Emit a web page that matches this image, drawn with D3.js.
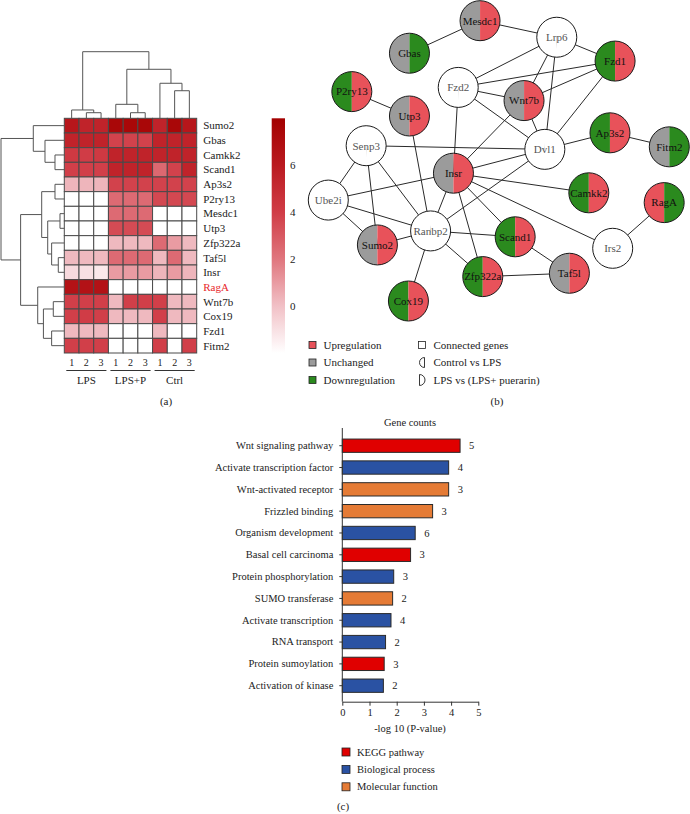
<!DOCTYPE html>
<html><head><meta charset="utf-8">
<script src="https://cdn.jsdelivr.net/npm/d3@7"></script>
<style>
body{margin:0;background:#fff}
text{font-family:"Liberation Serif","Times New Roman",serif;}
</style>
</head><body>
<svg id="c" width="690" height="814"></svg>
<script>
// ---------------- DATA ----------------
const rowGenes = ["Sumo2","Gbas","Camkk2","Scand1","Ap3s2","P2ry13","Mesdc1","Utp3","Zfp322a","Taf5l","Insr","RagA","Wnt7b","Cox19","Fzd1","Fitm2"];
const colReplicates = ["1","2","3","1","2","3","1","2","3"];
const colGroups = ["LPS","LPS+P","Ctrl"];
const heatValues = [
 [6.3,5.5,5.5, 7.5,7.5,7.5, 5.5,7.5,6.3],
 [5.5,5.5,5.5, 3.8,3.8,3.8, 5.5,5.5,5.5],
 [4.2,4.0,4.2, 5.5,5.5,5.5, 5.5,5.5,5.5],
 [3.9,3.9,3.9, 5.5,5.5,5.5, 2.5,3.8,5.5],
 [0.3,0.3,0.3, 3.8,3.8,3.8, 3.8,3.8,3.8],
 [-2,-2,-2, 2.4,2.4,2.4, 3.6,3.6,3.6],
 [-2,-2,-2, 2.4,2.4,2.4, -2,-2,-2],
 [-2,-2,-2, 3.5,3.5,3.5, -2,-2,-2],
 [-2,-2,-2, 0.2,0.2,0.2, 2.4,1.0,0.2],
 [0.2,0.2,0.2, 2.4,2.4,2.4, 0.2,2.4,0.2],
 [-0.8,-1.0,-1.3, 1.0,1.0,1.0, 0.3,1.0,0.3],
 [6.6,6.6,6.6, -2,-2,-2, -2,-2,-2],
 [3.9,3.9,3.9, 0.2,3.9,3.9, 3.9,0.2,0.2],
 [3.9,4.0,3.9, 0.2,0.2,0.2, 3.9,0.2,0.2],
 [0.2,0.2,0.2, -2,-2,-2, 0.2,-2,-2],
 [3.9,3.9,3.9, -2,-2,-2, 3.9,-2,3.9]
];
const colorTicks = [0,2,4,6];
// dendrogram merges: [childA, childB, height]
const rowMerges = [
 ["r2","r3",1.47],["r1","m0",3.05],["r0","m1",4.9],
 ["r4","r5",1.47],["r6","r7",0.68],["r9","r10",0.95],["r8","m5",2.0],
 ["m4","m6",2.62],["m3","m7",3.57],
 ["r12","r13",1.74],["r14","r15",2.0],["m9","m10",3.3],["r11","m11",4.2],
 ["m8","m12",6.9],["m2","m13",10]
];
const colMerges = [
 ["c1","c2",0.84],["c0","m0",1.25],["c4","c5",0.84],["c3","m2",2.1],
 ["c7","c8",4.14],["c6","m4",5.26],["m3","m5",7.36],["m1","m6",10]
];

// network (layout units 0-100)
const netNodes = [
 {id:"Mesdc1",x:44.5,y:0,l:"unch",r:"up"},
 {id:"Lrp6",x:67.0,y:5.9,l:"none",r:"none"},
 {id:"Gbas",x:23.8,y:11.6,l:"unch",r:"down"},
 {id:"Fzd1",x:84.1,y:14.4,l:"down",r:"up"},
 {id:"Fzd2",x:38.1,y:23.8,l:"none",r:"none"},
 {id:"P2ry13",x:6.9,y:25.3,l:"down",r:"up"},
 {id:"Wnt7b",x:57.4,y:28.5,l:"unch",r:"up"},
 {id:"Utp3",x:23.8,y:34.0,l:"unch",r:"up"},
 {id:"Ap3s2",x:82.6,y:40.0,l:"down",r:"up"},
 {id:"Fitm2",x:100,y:45.0,l:"unch",r:"down"},
 {id:"Senp3",x:11.1,y:44.6,l:"none",r:"none"},
 {id:"Dvl1",x:63.5,y:45.9,l:"none",r:"none"},
 {id:"Insr",x:36.7,y:54.4,l:"unch",r:"up"},
 {id:"Camkk2",x:76.4,y:61.4,l:"down",r:"up"},
 {id:"RagA",x:98.5,y:64.9,l:"up",r:"down"},
 {id:"Ube2i",x:0,y:64.0,l:"none",r:"none"},
 {id:"Ranbp2",x:30.0,y:75.0,l:"none",r:"none"},
 {id:"Sumo2",x:14.4,y:80.0,l:"unch",r:"up"},
 {id:"Scand1",x:54.8,y:77.1,l:"down",r:"up"},
 {id:"Irs2",x:83.4,y:81.2,l:"none",r:"none"},
 {id:"Zfp322a",x:45.3,y:91.3,l:"down",r:"up"},
 {id:"Taf5l",x:70.7,y:90.1,l:"unch",r:"up"},
 {id:"Cox19",x:23.5,y:100,l:"down",r:"up"}
];
const netEdges = [
 ["Gbas","Mesdc1"],["Mesdc1","Lrp6"],["Lrp6","Fzd1"],["Lrp6","Fzd2"],["Lrp6","Wnt7b"],["Lrp6","Dvl1"],
 ["Fzd2","Fzd1"],["Fzd2","Wnt7b"],["Fzd2","Dvl1"],["Fzd2","Insr"],["Wnt7b","Fzd1"],["Wnt7b","Dvl1"],
 ["Wnt7b","Insr"],["Fzd1","Dvl1"],["P2ry13","Utp3"],["Utp3","Ranbp2"],["Senp3","Dvl1"],["Senp3","Ube2i"],
 ["Senp3","Sumo2"],["Senp3","Ranbp2"],["Dvl1","Ap3s2"],["Ap3s2","Fitm2"],["Dvl1","Insr"],["Dvl1","Ranbp2"],
 ["Insr","Ube2i"],["Insr","Camkk2"],["Insr","Irs2"],["Insr","Scand1"],["Insr","Zfp322a"],["Insr","Ranbp2"],
 ["Ube2i","Ranbp2"],["Ube2i","Sumo2"],["Sumo2","Ranbp2"],["Ranbp2","Scand1"],["Ranbp2","Zfp322a"],
 ["Ranbp2","Cox19"],["Scand1","Taf5l"],["Zfp322a","Taf5l"],["RagA","Irs2"]
];
const statusLegend = [["up","Upregulation"],["unch","Unchanged"],["down","Downregulation"]];
const shapeLegend = ["Connected genes","Control vs LPS","LPS vs (LPS+ puerarin)"];

// bar chart
const terms = ["Wnt signaling pathway","Activate transcription factor","Wnt-activated receptor","Frizzled binding","Organism development","Basal cell carcinoma","Protein phosphorylation","SUMO transferase","Activate transcription","RNA transport","Protein sumoylation","Activation of kinase"];
const logP = [4.33,3.91,3.91,3.32,2.68,2.51,1.89,1.85,1.79,1.59,1.54,1.51];
const geneCounts = [5,4,3,3,6,3,3,2,4,2,3,2];
const termType = ["KEGG","BP","MF","MF","BP","KEGG","BP","MF","BP","BP","KEGG","BP"];
const typeNames = ["KEGG pathway","Biological process","Molecular function"];
const typeKeys = ["KEGG","BP","MF"];
const xTicks = [0,1,2,3,4,5];

// ---------------- DRAW ----------------
const svg = d3.select("#c");
const stroke = "#4a4a4a";

// ===== (a) heatmap =====
const hx = d3.scaleBand().domain(d3.range(9)).range([64.3,196.7]);
const hy = d3.scaleBand().domain(d3.range(16)).range([118.3,353]);
const color = d3.scaleLinear().domain([-2,0,2,4,6,8])
  .range(["#ffffff","#f1c0c6","#e0767e","#d03c46","#ba1a20","#a30000"]).clamp(true);

const gH = svg.append("g");
heatValues.forEach((row,i)=>row.forEach((v,j)=>{
  gH.append("rect").attr("x",hx(j)).attr("y",hy(i)).attr("width",hx.bandwidth()).attr("height",hy.bandwidth())
    .attr("fill",color(v)).attr("stroke",stroke).attr("stroke-width",1);
}));
gH.selectAll("text.row").data(rowGenes).join("text").attr("class","row")
  .attr("x",hx.range()[1]+6.5).attr("y",(d,i)=>hy(i)+hy.bandwidth()/2).attr("dy","0.35em")
  .attr("font-size",11).attr("fill",d=>d==="RagA"?"#e8262b":"#222").text(d=>d);
gH.selectAll("text.rep").data(colReplicates).join("text").attr("class","rep")
  .attr("x",(d,j)=>hx(j)+hx.bandwidth()/2).attr("y",366).attr("text-anchor","middle")
  .attr("font-size",10).attr("fill","#222").text(d=>d);
colGroups.forEach((g,k)=>{
  const x0 = hx(k*3), x1 = hx(k*3+2)+hx.bandwidth();
  gH.append("line").attr("x1",x0+2).attr("x2",x1-2).attr("y1",370.5).attr("y2",370.5).attr("stroke","#333");
  gH.append("text").attr("x",(x0+x1)/2).attr("y",384).attr("text-anchor","middle").attr("font-size",11).attr("fill","#222").text(g);
});
gH.append("text").attr("x",166).attr("y",405).attr("text-anchor","middle").attr("font-size",11).attr("fill","#222").text("(a)");

// dendrograms
function dendro(merges, leafPos, hScale, horizontal){
  const pos = {}, ht = {};
  merges.forEach((m,k)=>{
    const [a,b,h] = m;
    [a,b].forEach(c=>{ if(!(c in pos)){ pos[c]=leafPos(c); ht[c]=0; } });
    const id = "m"+k;
    pos[id] = (pos[a]+pos[b])/2; ht[id]=h;
    let p;
    if(horizontal){
      p = `M${hScale(ht[a])},${pos[a]}H${hScale(h)}V${pos[b]}H${hScale(ht[b])}`;
    } else {
      p = `M${pos[a]},${hScale(ht[a])}V${hScale(h)}H${pos[b]}V${hScale(ht[b])}`;
    }
    gH.append("path").attr("d",p).attr("fill","none").attr("stroke","#555").attr("stroke-width",1);
  });
}
dendro(rowMerges, c=>hy(+c.slice(1))+hy.bandwidth()/2, d3.scaleLinear().domain([0,10]).range([64.3,1]), true);
dendro(colMerges, c=>hx(+c.slice(1))+hx.bandwidth()/2, d3.scaleLinear().domain([0,10]).range([118.3,51.7]), false);

// colour bar
const cb = d3.scaleLinear().domain([-2,8]).range([353,118.3]);
const grad = svg.append("defs").append("linearGradient").attr("id","cbg").attr("x1",0).attr("x2",0).attr("y1",1).attr("y2",0);
d3.range(-2,8.01,0.5).forEach(v=>grad.append("stop").attr("offset",(v+2)/10).attr("stop-color",color(v)));
gH.append("rect").attr("x",271.7).attr("y",cb(8)).attr("width",13.3).attr("height",cb(-2)-cb(8)).attr("fill","url(#cbg)");
gH.selectAll("text.cb").data(colorTicks).join("text").attr("class","cb")
  .attr("x",290).attr("y",d=>cb(d)).attr("dy","0.35em").attr("font-size",11).attr("fill","#222").text(d=>d);

// ===== (b) network =====
const nx = d3.scaleLinear().domain([0,100]).range([328.3,669.3]);
const ny = d3.scaleLinear().domain([0,100]).range([20.7,301]);
const R = 20;
const fillOf = {up:"#e8525a",unch:"#9b9b9b",down:"#2b8a1e",none:"#ffffff"};
const gN = svg.append("g");
const byId = Object.fromEntries(netNodes.map(n=>[n.id,n]));
netEdges.forEach(([a,b])=>{
  gN.append("line").attr("x1",nx(byId[a].x)).attr("y1",ny(byId[a].y)).attr("x2",nx(byId[b].x)).attr("y2",ny(byId[b].y))
    .attr("stroke","#2a2a2a").attr("stroke-width",1);
});
const leftArc = d3.arc().innerRadius(0).outerRadius(R).startAngle(Math.PI).endAngle(2*Math.PI);
const rightArc = d3.arc().innerRadius(0).outerRadius(R).startAngle(0).endAngle(Math.PI);
netNodes.forEach(n=>{
  const g = gN.append("g").attr("transform",`translate(${nx(n.x)},${ny(n.y)})`);
  g.append("path").attr("d",leftArc()).attr("fill",fillOf[n.l]);
  g.append("path").attr("d",rightArc()).attr("fill",fillOf[n.r]);
  g.append("circle").attr("r",R).attr("fill","none").attr("stroke","#1a1a1a").attr("stroke-width",1);
  g.append("text").attr("text-anchor","middle").attr("dy","0.35em").attr("font-size",11)
    .attr("fill",n.l==="none"?"#555":"#111").text(n.id);
});
// legend b
statusLegend.forEach(([k,lab],i)=>{
  const y = 345 + i*17.5;
  gN.append("rect").attr("x",309).attr("y",y-3.5).attr("width",7).attr("height",7).attr("fill",fillOf[k]).attr("stroke","#222").attr("stroke-width",0.8);
  gN.append("text").attr("x",323.5).attr("y",y).attr("dy","0.35em").attr("font-size",11).attr("fill","#222").text(lab);
});
shapeLegend.forEach((lab,i)=>{
  const y = 345 + i*17.5, cx = 422;
  if(i===0){
    gN.append("rect").attr("x",cx-3.5).attr("y",y-3.5).attr("width",7).attr("height",7).attr("fill","#fff").attr("stroke","#222").attr("stroke-width",0.8);
  } else if(i===1){
    gN.append("path").attr("d",`M${cx+2.5},${y-5}A5,5 0 0 0 ${cx+2.5},${y+5}Z`).attr("fill","#fff").attr("stroke","#222").attr("stroke-width",0.9);
  } else {
    gN.append("path").attr("d",`M${cx-2.5},${y-5.5}A5.5,5.5 0 0 1 ${cx-2.5},${y+5.5}Z`).attr("fill","#fff").attr("stroke","#222").attr("stroke-width",0.9);
  }
  gN.append("text").attr("x",433.5).attr("y",y).attr("dy","0.35em").attr("font-size",11).attr("fill","#222").text(lab);
});
gN.append("text").attr("x",497).attr("y",405).attr("text-anchor","middle").attr("font-size",11).attr("fill","#222").text("(b)");

// ===== (c) bar chart =====
const bx = d3.scaleLinear().domain([0,5]).range([342.3,478.3]);
const by = d3.scaleBand().domain(terms).range([434.8,696.6]).paddingInner(0.39).paddingOuter(0.195);
const typeColor = {KEGG:"#e00000",BP:"#2a52a3",MF:"#e57b35"};
const gB = svg.append("g");
const axisY = 701.7;
gB.selectAll("rect.bar").data(terms).join("rect").attr("class","bar")
  .attr("x",bx(0)).attr("y",d=>by(d)).attr("width",(d,i)=>bx(logP[i])-bx(0)).attr("height",by.bandwidth())
  .attr("fill",(d,i)=>typeColor[termType[i]]).attr("stroke","#2a2a2a").attr("stroke-width",1);
gB.selectAll("text.cnt").data(terms).join("text").attr("class","cnt")
  .attr("x",(d,i)=>bx(logP[i])+9).attr("y",d=>by(d)+by.bandwidth()/2).attr("dy","0.35em")
  .attr("font-size",10.5).attr("fill","#222").text((d,i)=>geneCounts[i]);
const yAx = gB.append("g").attr("transform",`translate(${bx(0)},0)`)
  .call(d3.axisLeft(by).tickSize(3).tickPadding(6).tickSizeOuter(0));
yAx.select(".domain").remove();
yAx.selectAll("text").attr("font-size",10.5).attr("fill","#222").attr("font-family","Liberation Serif");
yAx.selectAll("line").attr("stroke","#333");
gB.append("line").attr("x1",bx(0)).attr("x2",bx(0)).attr("y1",428).attr("y2",axisY).attr("stroke","#333");
const xAx = gB.append("g").attr("transform",`translate(0,${axisY})`)
  .call(d3.axisBottom(bx).tickValues(xTicks).tickFormat(d3.format("d")).tickSize(4).tickPadding(3).tickSizeOuter(0));
xAx.selectAll("text").attr("font-size",10.5).attr("fill","#222").attr("font-family","Liberation Serif");
xAx.selectAll("line,path").attr("stroke","#333");
gB.append("text").attr("x",410).attr("y",426).attr("text-anchor","middle").attr("font-size",10.5).attr("fill","#222").text("Gene counts");
gB.append("text").attr("x",410).attr("y",732).attr("text-anchor","middle").attr("font-size",10.5).attr("fill","#222").text("-log 10 (P-value)");
typeKeys.forEach((k,i)=>{
  const y = 752 + i*17.4;
  gB.append("rect").attr("x",342).attr("y",y-4).attr("width",8).attr("height",8).attr("fill",typeColor[k]).attr("stroke","#222").attr("stroke-width",0.8);
  gB.append("text").attr("x",357).attr("y",y).attr("dy","0.35em").attr("font-size",10.5).attr("fill","#222").text(typeNames[i]);
});
gB.append("text").attr("x",343).attr("y",810).attr("text-anchor","middle").attr("font-size",11).attr("fill","#222").text("(c)");
</script>
</body></html>
